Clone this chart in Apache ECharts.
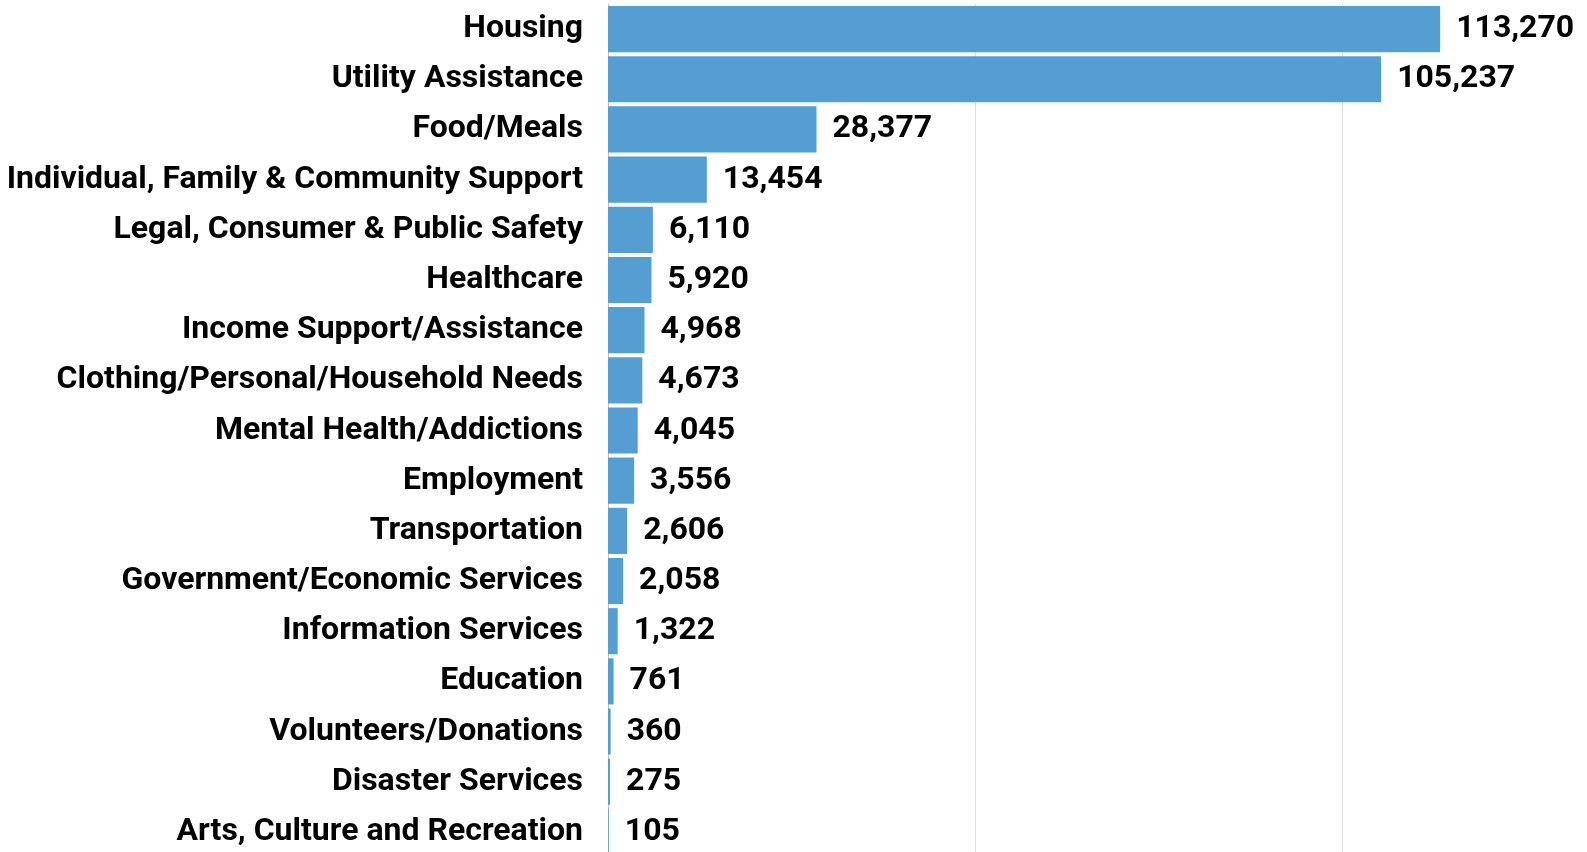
<!DOCTYPE html>
<html>
<head>
<meta charset="utf-8">
<script src="https://cdn.jsdelivr.net/npm/echarts@6/dist/echarts.min.js"></script>
<style>
  html, body { margin: 0; padding: 0; background: #fff; }
  #chart { width: 1587px; height: 852px; }
</style>
</head>
<body>
<div id="chart"></div>
<script>
// categories, top to bottom
const categories = [
  "Housing",
  "Utility Assistance",
  "Food/Meals",
  "Individual, Family & Community Support",
  "Legal, Consumer & Public Safety",
  "Healthcare",
  "Income Support/Assistance",
  "Clothing/Personal/Household Needs",
  "Mental Health/Addictions",
  "Employment",
  "Transportation",
  "Government/Economic Services",
  "Information Services",
  "Education",
  "Volunteers/Donations",
  "Disaster Services",
  "Arts, Culture and Recreation"
];
const counts = [113270, 105237, 28377, 13454, 6110, 5920, 4968, 4673, 4045, 3556, 2606, 2058, 1322, 761, 360, 275, 105];

const chart = echarts.init(document.getElementById("chart"));

const option = {
  animation: false,
  // grid runs past the right edge, so the 150k gridline is cut off like in the original
  grid: {
    left: 608,
    width: 1102,
    top: 4,
    height: 853,
    containLabel: false,
    outerBoundsMode: "none"
  },
  xAxis: {
    type: "value",
    min: 0,
    max: 150000,
    interval: 50000,
    axisLabel: { show: false },
    axisLine: { show: false },
    axisTick: { show: false },
    splitLine: { show: true, lineStyle: { color: "#dcdcdc", width: 1 } }
  },
  yAxis: {
    type: "category",
    data: categories,
    inverse: true,
    axisTick: { show: false },
    axisLine: { show: true, lineStyle: { color: "#b8c4d0", width: 1 } },
    axisLabel: {
      margin: 25,
      color: "#000",
      fontFamily: "Roboto",
      fontWeight: "bold",
      fontSize: 32
    }
  },
  series: [
    {
      type: "bar",
      data: counts,
      barCategoryGap: "8%",
      itemStyle: { color: "#559ed2" },
      label: {
        show: true,
        position: "right",
        distance: 16,
        color: "#000",
        fontFamily: "Roboto",
        fontWeight: "bold",
        fontSize: 32,
        formatter: (p) => p.value.toLocaleString("en-US")
      }
    }
  ]
};

chart.setOption(option);
</script>
</body>
</html>
